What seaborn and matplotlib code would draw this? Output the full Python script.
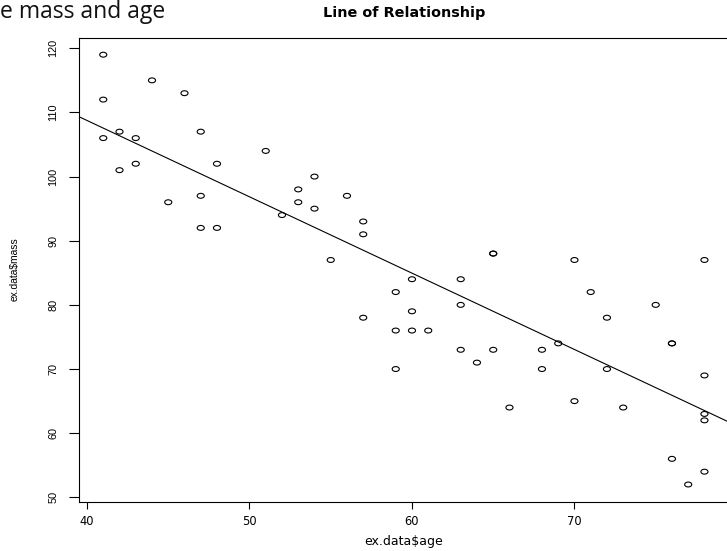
import numpy as np
import pandas as pd
import matplotlib
matplotlib.use("Agg")
import matplotlib.pyplot as plt
from matplotlib.path import Path
from matplotlib.transforms import Affine2D
from matplotlib.markers import MarkerStyle
import seaborn as sns

# ages and masses of the sample
age = [41, 41, 41, 42, 42, 43, 43, 44, 45, 46, 47, 47, 47, 48, 48, 51, 52,
       53, 53, 54, 54, 55, 56, 57, 57, 57, 59, 59, 59, 60, 60, 60, 61, 63,
       63, 63, 64, 65, 65, 65, 66, 68, 68, 69, 70, 70, 71, 72, 72, 73, 75,
       76, 76, 76, 77, 78, 78, 78, 78, 78]
mass = [119, 112, 106, 107, 101, 106, 102, 115, 96, 113, 107, 97, 92, 102, 92,
        104, 94, 98, 96, 100, 95, 87, 97, 93, 91, 78, 82, 76, 70, 84, 79, 76,
        76, 84, 80, 73, 71, 88, 88, 73, 64, 73, 70, 74, 87, 65, 82, 78, 70,
        64, 80, 74, 74, 56, 52, 87, 69, 63, 62, 54]
x_ticks = [40, 50, 60, 70]
y_ticks = [50, 60, 70, 80, 90, 100, 110, 120]

df = pd.DataFrame({"age": age, "mass": mass})

sns.set_style("ticks")
plt.rcParams["font.family"] = ["DejaVu Sans"]
plt.rcParams["text.color"] = "black"
plt.rcParams["axes.labelcolor"] = "black"
plt.rcParams["xtick.color"] = "black"
plt.rcParams["ytick.color"] = "black"

W, H = 727, 551
fig = plt.figure(figsize=(W / 100, H / 100), dpi=100)
fig.patch.set_facecolor("white")

# plot region in pixels (left, right, top, bottom)
L, R, T, B = 79.2, 728.5, 37.5, 501.7
ax = fig.add_axes([L / W, (H - B) / H, (R - L) / W, (B - T) / H])
ax.set_facecolor("white")

# R-style 4% padding around the data range
xr = max(age) - min(age)
yr = max(mass) - min(mass)
xlim = (min(age) - 0.04 * xr, max(age) + 0.04 * xr)
ylim = (min(mass) - 0.04 * yr, max(mass) + 0.04 * yr)
ax.set_xlim(*xlim)
ax.set_ylim(*ylim)

# open, slightly wide circles
ell = Path.unit_circle().transformed(Affine2D().scale(1.45, 1.0))
sns.scatterplot(data=df, x="age", y="mass", ax=ax, marker=MarkerStyle(ell),
                s=26, facecolor="none", edgecolor="black", linewidth=0.8,
                zorder=3)

# least-squares line across the whole plot
sns.regplot(data=df, x="age", y="mass", ax=ax, scatter=False, ci=None,
            truncate=False, color="black", line_kws={"linewidth": 0.8})

ax.set_xlim(*xlim)
ax.set_ylim(*ylim)
ax.set_xticks(x_ticks)
ax.set_yticks(y_ticks)
ax.set_xticklabels([str(v) for v in x_ticks], fontsize=8.3,
                   family="DejaVu Sans", color="black")
ax.set_yticklabels([str(v) for v in y_ticks], fontsize=7.8,
                   family="Liberation Sans", rotation=90, va="center",
                   color="black")
ax.tick_params(axis="x", length=5, width=0.8, pad=4.5)
ax.tick_params(axis="y", length=7.5, width=0.8, pad=7.5)

for side in ["left", "top", "bottom", "right"]:
    ax.spines[side].set_visible(True)
    ax.spines[side].set_color("black")
    ax.spines[side].set_linewidth(0.8)

ax.set_xlabel("")
ax.set_ylabel("")
fig.text(404 / W, 1 - 545 / H, "ex.data$age", ha="center", va="baseline",
         fontsize=9, family="DejaVu Sans")
fig.text(14.7 / W, 1 - 269 / H, "ex.data$mass", rotation=90, ha="center",
         va="center", fontsize=7.4, family="Liberation Sans")

fig.text(404 / W, 1 - 17 / H, "Line of Relationship", ha="center",
         va="baseline", fontsize=10.4, fontweight="bold", family="DejaVu Sans")

fig.text(0, 1 - 18 / H, "e mass and age", ha="left", va="baseline",
         fontsize=16.5, family="Open Sans", color="#111111")

fig.savefig("out.png", dpi=100, facecolor="white")
